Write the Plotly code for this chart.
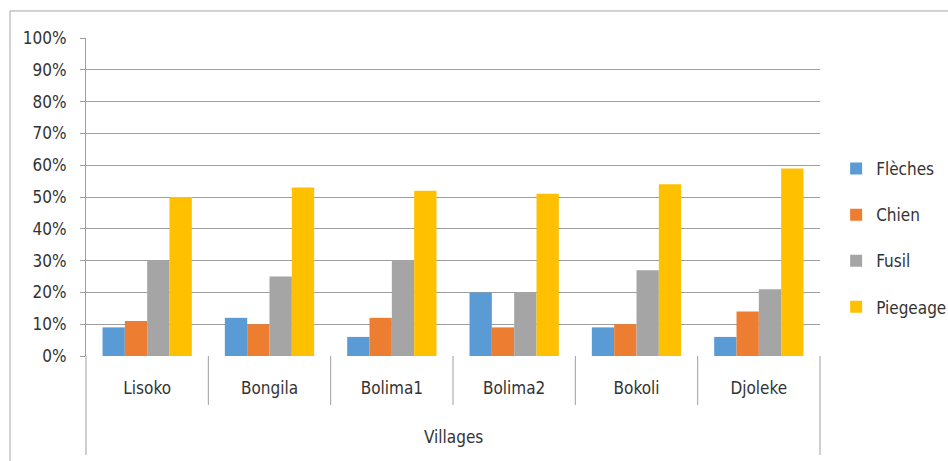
import plotly.graph_objects as go

villages = ["Lisoko", "Bongila", "Bolima1", "Bolima2", "Bokoli", "Djoleke"]
axis_title = "Villages"
fleches = [0.09, 0.12, 0.06, 0.20, 0.09, 0.06]
chien = [0.11, 0.10, 0.12, 0.09, 0.10, 0.14]
fusil = [0.30, 0.25, 0.30, 0.20, 0.27, 0.21]
piegeage = [0.50, 0.53, 0.52, 0.51, 0.54, 0.59]

series = [
    ("Flèches", fleches, "#5B9BD5"),
    ("Chien", chien, "#ED7D31"),
    ("Fusil", fusil, "#A5A5A5"),
    ("Piegeage", piegeage, "#FFC000"),
]

FONT = "DejaVu Sans Condensed, Lato, sans-serif"
TXT = "#333333"
GRID = "#9E9E9E"

fig = go.Figure()
for name, vals, col in series:
    fig.add_trace(go.Bar(x=villages, y=vals, name=name, legendgroup=name,
                         marker=dict(color=col, line=dict(width=0))))

fig.update_layout(
    width=948, height=461,
    barmode="group", bargap=0.27, bargroupgap=0,
    plot_bgcolor="white", paper_bgcolor="white",
    margin=dict(l=86, r=128, t=38, b=105, autoexpand=False),
    font=dict(family=FONT, size=16, color=TXT),
    showlegend=True,
    legend=dict(xref="container", yref="container", x=0.882, y=0.4837,
                xanchor="left", yanchor="middle",
                font=dict(size=17, color=TXT),
                itemwidth=30, tracegroupgap=21, bgcolor="rgba(0,0,0,0)"),
)
fig.update_xaxes(type="category", showline=False, showgrid=False,
                 ticks="", ticklabelstandoff=20, automargin=False,
                 tickfont=dict(size=17, color=TXT))
fig.update_yaxes(range=[0, 1], dtick=0.1, tickformat=".0%", showgrid=True,
                 gridcolor=GRID, gridwidth=1, showline=True,
                 linecolor=GRID, ticks="outside", ticklen=5,
                 tickcolor=GRID, zeroline=False, automargin=False,
                 ticklabelstandoff=10,
                 tickfont=dict(size=17, color=TXT))

# category dividers below the axis
n = len(villages)
for k in range(n + 1):
    y0 = -0.311 if k in (0, n) else -0.154
    fig.add_shape(type="line", xref="paper", yref="paper",
                  x0=k / n, x1=k / n, y0=0, y1=y0,
                  line=dict(color=GRID, width=1))

fig.add_annotation(text=axis_title, xref="paper", yref="paper",
                   x=0.5, y=-0.255, showarrow=False,
                   font=dict(size=17, color=TXT), yanchor="middle")

fig.add_shape(type="rect", xref="paper", yref="paper",
              x0=-0.1035, x1=1.3, y0=-0.5, y1=1.085,
              line=dict(color="#A6A6A6", width=1), layer="below")

fig.write_html("out.html", config={"displayModeBar": False},
               post_script="document.body.style.margin='0';document.body.style.padding='0';")
